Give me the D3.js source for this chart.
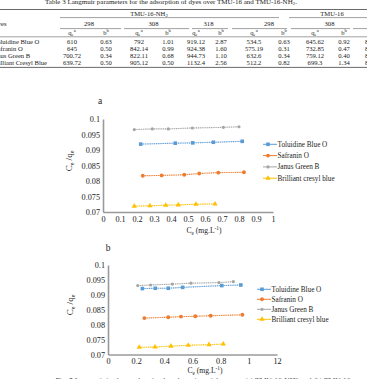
<!DOCTYPE html>
<html>
<head>
<meta charset="utf-8">
<script src="https://cdn.jsdelivr.net/npm/d3@7"></script>
<style>
  body { margin: 0; background: #fff; }
  svg { display: block; font-family: "Liberation Serif", "Times New Roman", serif; }
</style>
</head>
<body>
<div id="viz"></div>
<script>
//==============================================================================
// Data

// table (partially cropped in the reference)
var tableTitle = "Table 3 Langmuir parameters for the adsorption of dyes over TMU-16 and TMU-16-NH";
var groups = ["TMU-16-NH", "TMU-16"];
var temps = ["298", "308", "318", "298", "308"];
var dyeNames = ["Toluidine Blue O", "Safranin O", "Janus Green B", "Brilliant Cresyl Blue"];
var tableValues = [
  ["610", "0.63", "792", "1.01", "919.12", "2.87", "534.5", "0.63", "645.62", "0.92", "812.40"],
  ["645", "0.50", "842.14", "0.99", "924.38", "1.60", "575.19", "0.31", "732.85", "0.47", "831.60"],
  ["700.72", "0.34", "822.11", "0.68", "944.73", "1.10", "632.6", "0.34", "759.12", "0.40", "845.20"],
  ["639.72", "0.50", "905.12", "0.50", "1132.4", "2.56", "512.2", "0.82", "699.3", "1.34", "866.10"]
];

// legend names
var seriesNames = ["Toluidine Blue O", "Safranin O", "Janus Green B", "Brilliant cresyl blue"];

// chart a : Ce (x) and Ce/qe (y) per series
var aToluidineX = [0.222, 0.425, 0.528, 0.649, 0.819];
var aToluidineY = [0.0919, 0.0922, 0.0923, 0.0925, 0.0928];
var aSafraninX = [0.234, 0.345, 0.478, 0.566, 0.678, 0.829];
var aSafraninY = [0.0817, 0.0818, 0.0820, 0.0824, 0.0827, 0.0828];
var aJanusX = [0.184, 0.290, 0.384, 0.525, 0.708, 0.800];
var aJanusY = [0.0966, 0.0968, 0.0968, 0.0971, 0.0973, 0.0975];
var aCresylX = [0.184, 0.276, 0.369, 0.443, 0.547, 0.659];
var aCresylY = [0.0719, 0.0720, 0.0722, 0.0723, 0.0725, 0.0726];

// chart b
var bToluidineX = [0.244, 0.336, 0.428, 0.530, 0.808, 0.943];
var bToluidineY = [0.0921, 0.0922, 0.0922, 0.0925, 0.0931, 0.0933];
var bSafraninX = [0.258, 0.428, 0.518, 0.620, 0.729, 0.954];
var bSafraninY = [0.0822, 0.0825, 0.0827, 0.0828, 0.0830, 0.0833];
var bJanusX = [0.211, 0.303, 0.457, 0.589, 0.788, 0.890];
var bJanusY = [0.0931, 0.0933, 0.0936, 0.0939, 0.0941, 0.0944];
var bCresylX = [0.222, 0.334, 0.447, 0.570, 0.717, 0.819];
var bCresylY = [0.0724, 0.0725, 0.0728, 0.0731, 0.0733, 0.0735];

// tick labels
var yTicks = [0.07, 0.075, 0.08, 0.085, 0.09, 0.095, 0.1];
var yTickLabels = ["0.07", "0.075", "0.08", "0.085", "0.09", "0.095", "0.1"];
var aXTicks = [0, 0.1, 0.2, 0.3, 0.4, 0.5, 0.6, 0.7, 0.8, 0.9, 1];
var aXTickLabels = ["0", "0.1", "0.2", "0.3", "0.4", "0.5", "0.6", "0.7", "0.8", "0.9", "1"];
var bXTicks = [0, 0.2, 0.4, 0.6, 0.8, 1, 1.2];
var bXTickLabels = ["0", "0.2", "0.4", "0.6", "0.8", "1", "12"];

//==============================================================================
// Styles
var width = 367, height = 379;
var colors = ["#5b9bd5", "#ed7d31", "#a5a5a5", "#ffc000"];
var shapes = [d3.symbolSquare, d3.symbolCircle, d3.symbolCircle, d3.symbolTriangle];
var sizes = [13, 12, 8, 12];
var axisColor = "#9a9a9a";
var textColor = "#222";

var svg = d3.select("#viz").append("svg")
  .attr("width", width)
  .attr("height", height);

//==============================================================================
// Table at the top
var tfont = 6.6;
var colX = [72, 106, 139, 168, 196, 221, 254, 284, 315, 344, 374];
var rowY = [43.6, 50.8, 57.9, 65];
var tab = svg.append("g").attr("fill", textColor).attr("font-size", tfont);

var title = tab.append("text").attr("x", 171).attr("y", 3.6).attr("text-anchor", "middle")
  .attr("font-size", 7).text(tableTitle);
title.append("tspan").attr("dy", 1.5).attr("font-size", 5).text("2");
title.append("tspan").attr("dy", -1.5).text(".");

var rule = function(x1, x2, y, w) {
  tab.append("line").attr("x1", x1).attr("x2", x2).attr("y1", y).attr("y2", y)
    .attr("stroke", "#444").attr("stroke-width", w);
};
rule(0, width, 9.5, 0.8);
rule(60, 279, 17.6, 0.5);
rule(289, width, 17.6, 0.5);
[[60, 121], [124, 189], [192, 228], [232, 287], [291, 350], [353, width]].forEach(function(s) {
  rule(s[0], s[1], 28.6, 0.5);
});
rule(0, width, 36.8, 0.5);
rule(0, width, 67.4, 0.8);

var g1 = tab.append("text").attr("x", 149).attr("y", 15.6).attr("text-anchor", "middle").text(groups[0]);
g1.append("tspan").attr("dy", 1.3).attr("font-size", 4.8).text("2");
tab.append("text").attr("x", 332).attr("y", 15.6).attr("text-anchor", "middle").text(groups[1]);

tab.append("text").attr("x", -7).attr("y", 26).text("Dyes");
tab.selectAll(".temp").data(temps).enter().append("text")
  .attr("class", "temp")
  .attr("x", function(d, i) { return (colX[2 * i] + colX[2 * i + 1]) / 2; })
  .attr("y", 25.8).attr("text-anchor", "middle").text(function(d) { return d; });

colX.forEach(function(x, i) {
  var t = tab.append("text").attr("x", x).attr("y", 34.6).attr("text-anchor", "middle");
  if (i % 2 === 0) {
    t.append("tspan").text("q");
    t.append("tspan").attr("dy", 1.2).attr("font-size", 4.6).text("e");
    t.append("tspan").attr("dy", -3.4).attr("font-size", 4.6).text("a");
  } else {
    t.append("tspan").text("b");
    t.append("tspan").attr("dy", -2.2).attr("font-size", 4.6).text("b");
  }
});

// row names: cropped on the left, measure the hidden prefix
var hidden = ["To", "Sa", "Jan", "Bri"];
dyeNames.forEach(function(name, i) {
  var probe = tab.append("text").text(hidden[i]);
  var w = probe.node().getComputedTextLength();
  probe.remove();
  tab.append("text").attr("x", -w + 0.5).attr("y", rowY[i]).text(name);
  tab.selectAll(null).data(tableValues[i]).enter().append("text")
    .attr("x", function(d, j) { return colX[j]; })
    .attr("y", rowY[i]).attr("text-anchor", "middle")
    .text(function(d) { return d; });
});

//==============================================================================
// Chart drawing
function drawChart(opt) {
  var x = d3.scaleLinear().domain(opt.xDomain).range(opt.xRange);
  var y = d3.scaleLinear().domain([0.07, 0.1]).range(opt.yRange);
  var g = svg.append("g");

  // panel letter
  g.append("text").attr("x", opt.letter[0]).attr("y", opt.letter[1])
    .attr("text-anchor", "middle").attr("font-size", 9.5).attr("fill", textColor)
    .text(opt.letterText);

  var yAxis = d3.axisLeft(y).tickValues(yTicks)
    .tickFormat(function(d, i) { return yTickLabels[i]; })
    .tickSize(0).tickPadding(3);
  var xAxis = d3.axisBottom(x).tickValues(opt.xTicks)
    .tickFormat(function(d, i) { return opt.xTickLabels[i]; })
    .tickSize(0).tickPadding(4);

  var ya = g.append("g").attr("transform", "translate(" + opt.xRange[0] + ",0)").call(yAxis);
  var xa = g.append("g").attr("transform", "translate(0," + opt.yRange[0] + ")").call(xAxis);
  [ya, xa].forEach(function(a) {
    a.select(".domain").attr("stroke", axisColor).attr("stroke-width", 1.6);
    a.selectAll("text").attr("font-family", "Liberation Serif, serif")
      .attr("font-size", 8.2).attr("fill", textColor);
  });

  // axis titles
  var yt = g.append("text")
    .attr("transform", "translate(" + opt.yTitle[0] + "," + opt.yTitle[1] + ") rotate(-90)")
    .attr("text-anchor", "middle").attr("font-size", 9).attr("fill", textColor);
  yt.append("tspan").text("C");
  yt.append("tspan").attr("dy", 2).attr("font-size", 6).text("e");
  yt.append("tspan").attr("dy", -2).text(" /q");
  yt.append("tspan").attr("dy", 2).attr("font-size", 6).text("e");

  var xt = g.append("text").attr("x", opt.xTitle[0]).attr("y", opt.xTitle[1])
    .attr("text-anchor", "middle").attr("font-size", 7.6).attr("fill", textColor);
  xt.append("tspan").text("C");
  xt.append("tspan").attr("dy", 1.8).attr("font-size", 5.2).text("e");
  xt.append("tspan").attr("dy", -1.8).text(" (mg.L");
  xt.append("tspan").attr("dy", -2.6).attr("font-size", 5.2).text("-1");
  xt.append("tspan").attr("dy", 2.6).text(")");

  var line = d3.line().x(function(d) { return x(d[0]); }).y(function(d) { return y(d[1]); });

  opt.series.forEach(function(s, k) {
    var pts = d3.zip(s[0], s[1]);
    g.append("path").datum(pts).attr("d", line).attr("fill", "none")
      .attr("stroke", colors[k]).attr("stroke-width", 0.8).attr("stroke-opacity", 0.45);
    g.append("path").datum(pts).attr("d", line).attr("fill", "none")
      .attr("stroke", colors[k]).attr("stroke-width", 1.1).attr("stroke-dasharray", "1,1.2");
    g.selectAll(null).data(pts).enter().append("path")
      .attr("transform", function(d) { return "translate(" + x(d[0]) + "," + y(d[1]) + ")"; })
      .attr("d", d3.symbol().type(shapes[k]).size(sizes[k]))
      .attr("fill", colors[k]);
  });

  // legend
  var lg = g.append("g").selectAll("g").data(seriesNames).enter().append("g")
    .attr("transform", function(d, i) {
      return "translate(" + opt.legend[0] + "," + (opt.legend[1] + i * opt.legend[2]) + ")";
    });
  lg.append("line").attr("x1", 0).attr("x2", 14).attr("y1", 0).attr("y2", 0)
    .attr("stroke", function(d, i) { return colors[i]; }).attr("stroke-width", 1);
  lg.append("path").attr("transform", "translate(5,0)")
    .attr("d", function(d, i) { return d3.symbol().type(shapes[i]).size(sizes[i])(); })
    .attr("fill", function(d, i) { return colors[i]; });
  lg.append("text").attr("x", 14.5).attr("y", 2.4).attr("font-size", 7.2).attr("fill", textColor)
    .text(function(d) { return d; });
}

drawChart({
  letterText: "a", letter: [100, 104],
  xDomain: [0, 1], xRange: [103, 273], yRange: [212, 119],
  xTicks: aXTicks, xTickLabels: aXTickLabels,
  yTitle: [72, 161], xTitle: [204, 233],
  legend: [263, 144.3, 11.3],
  series: [[aToluidineX, aToluidineY], [aSafraninX, aSafraninY], [aJanusX, aJanusY], [aCresylX, aCresylY]]
});

drawChart({
  letterText: "b", letter: [108, 251],
  xDomain: [0, 1.2], xRange: [108, 277], yRange: [354.5, 265],
  xTicks: bXTicks, xTickLabels: bXTickLabels,
  yTitle: [73, 305], xTitle: [205, 373],
  legend: [257, 289.3, 10],
  series: [[bToluidineX, bToluidineY], [bSafraninX, bSafraninY], [bJanusX, bJanusY], [bCresylX, bCresylY]]
});

// figure caption, cut off at the bottom
svg.append("text").attr("x", 203).attr("y", 383.5).attr("text-anchor", "middle")
  .attr("font-size", 7.5).attr("fill", "#555")
  .text("Fig. 5 Langmuir isotherm plots for the adsorption of dyes over (a) TMU-16-NH2 and (b) TMU-16");
</script>
</body>
</html>
